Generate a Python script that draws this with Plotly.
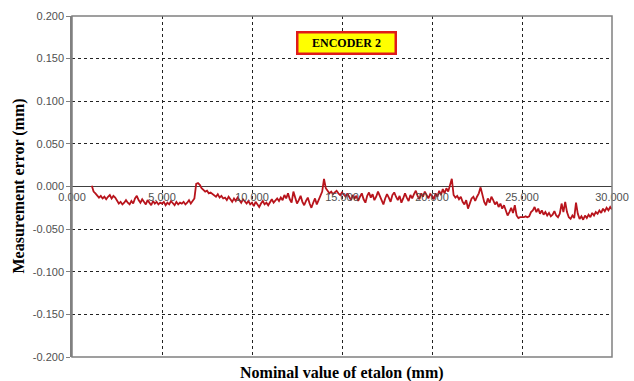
import plotly.graph_objects as go

# Nominal positions (mm) sampled every 0.1 mm from 1.1 to 30.0
x_start = 1.1
x_step = 0.1

errors = [
    0.001, -0.006, -0.008, -0.010, -0.013, -0.011, -0.014, -0.012, -0.015, -0.012,
    -0.010, -0.014, -0.011, -0.013, -0.017, -0.020, -0.018, -0.021, -0.019, -0.016,
    -0.019, -0.021, -0.017, -0.020, -0.014, -0.011, -0.016, -0.019, -0.015, -0.018,
    -0.021, -0.016, -0.019, -0.022, -0.017, -0.020, -0.018, -0.021, -0.019, -0.020,
    -0.018, -0.022, -0.019, -0.021, -0.017, -0.020, -0.022, -0.018, -0.021, -0.019,
    -0.020, -0.018, -0.021, -0.019, -0.016, -0.020, -0.017, -0.014, 0.003, 0.004,
    0.002, -0.002, -0.004, -0.006, -0.005, -0.008, -0.007, -0.009, -0.010, -0.012,
    -0.009, -0.013, -0.011, -0.014, -0.013, -0.016, -0.012, -0.015, -0.018, -0.014,
    -0.017, -0.013, -0.016, -0.019, -0.015, -0.018, -0.020, -0.017, -0.021, -0.019,
    -0.023, -0.018, -0.021, -0.024, -0.020, -0.017, -0.021, -0.019, -0.022, -0.018,
    -0.015, -0.019, -0.016, -0.014, -0.017, -0.013, -0.016, -0.010, -0.014, -0.008,
    -0.015, -0.019, -0.006, -0.013, -0.020, -0.016, -0.011, -0.018, -0.022, -0.017,
    -0.013, -0.020, -0.025, -0.019, -0.014, -0.021, -0.016, -0.011, -0.006, 0.009,
    -0.002, -0.005, -0.008, -0.006, -0.009, -0.007, -0.005, -0.008, -0.010, -0.007,
    -0.009, -0.012, -0.008, -0.013, -0.016, -0.010, -0.014, -0.011, -0.017, -0.012,
    -0.008, -0.015, -0.019, -0.011, -0.007, -0.013, -0.009, -0.016, -0.012, -0.006,
    -0.011, -0.017, -0.021, -0.014, -0.009, -0.013, -0.018, -0.010, -0.007, -0.012,
    -0.016, -0.011, -0.019, -0.014, -0.008, -0.013, -0.017, -0.010, -0.014, -0.009,
    -0.005, -0.011, -0.015, -0.008, -0.012, -0.006, -0.010, -0.014, -0.009, -0.011,
    -0.015, -0.008, -0.012, -0.005, -0.010, -0.003, -0.008, -0.002, -0.006, 0.001,
    0.009, -0.010, -0.013, -0.011, -0.015, -0.012, -0.018, -0.021, -0.016, -0.026,
    -0.020, -0.014, -0.012, -0.017, -0.012, -0.008, -0.001, -0.010, -0.018, -0.022,
    -0.014, -0.019, -0.012, -0.016, -0.021, -0.018, -0.024, -0.020, -0.026, -0.022,
    -0.028, -0.034, -0.030, -0.025, -0.031, -0.022, -0.034, -0.037, -0.036, -0.036,
    -0.036, -0.035, -0.036, -0.035, -0.030, -0.028, -0.024, -0.030, -0.026, -0.032,
    -0.028, -0.033, -0.030, -0.034, -0.031, -0.035, -0.033, -0.029, -0.034, -0.036,
    -0.032, -0.020, -0.030, -0.018, -0.030, -0.036, -0.038, -0.034, -0.037, -0.019,
    -0.032, -0.038, -0.035, -0.039, -0.034, -0.037, -0.033, -0.036, -0.031, -0.034,
    -0.030, -0.032, -0.028, -0.031, -0.026, -0.029, -0.025, -0.028, -0.024, -0.027,
]
positions = [round(x_start + x_step * i, 1) for i in range(len(errors))]

x_tickvals = [0, 5, 10, 15, 20, 25, 30]
x_ticktext = ["0.000", "5.000", "10.000", "15.000", "20.000", "25.000", "30.000"]
y_tickvals = [-0.2, -0.15, -0.1, -0.05, 0.0, 0.05, 0.1, 0.15, 0.2]
y_ticktext = ["-0.200", "-0.150", "-0.100", "-0.050", "0.000", "0.050", "0.100", "0.150", "0.200"]

title_text = "ENCODER 2"
x_title = "Nominal value of etalon (mm)"
y_title = "Measurement error (mm)"

serif = "Liberation Serif, Times New Roman, serif"
sans = "Liberation Sans, Arial, sans-serif"

fig = go.Figure()
fig.add_trace(go.Scatter(
    x=positions, y=errors, mode="lines",
    line=dict(color="#b8141c", width=1.8),
    showlegend=False, hoverinfo="skip",
))

fig.update_layout(
    width=634, height=381,
    margin=dict(l=72, r=22, t=16, b=24, autoexpand=False),
    paper_bgcolor="white", plot_bgcolor="white",
    xaxis=dict(
        range=[0, 30], tickvals=x_tickvals, ticktext=x_ticktext,
        anchor="free", position=0.5, automargin=False,
        showline=False, ticks="", zeroline=False,
        showgrid=True, gridcolor="#222222", griddash="dot", gridwidth=1,
        tickfont=dict(family=sans, size=11, color="#505050"),
        ticklabelstandoff=2,
    ),
    yaxis=dict(
        range=[-0.2, 0.2], tickvals=y_tickvals, ticktext=y_ticktext,
        automargin=False,
        showline=True, linecolor="#808080", linewidth=1.5,
        ticks="outside", ticklen=4, tickcolor="#808080",
        zeroline=True, zerolinecolor="#404040", zerolinewidth=1.2,
        showgrid=True, gridcolor="#222222", griddash="dot", gridwidth=1,
        tickfont=dict(family=sans, size=11, color="#505050"),
    ),
    shapes=[dict(
        type="rect", xref="paper", yref="paper", x0=0, x1=1, y0=0, y1=1,
        line=dict(color="#808080", width=1.5), layer="above",
    )],
    annotations=[
        dict(text="<b>" + title_text + "</b>", xref="paper", yref="paper",
             x=0.509, y=0.922, xanchor="center", yanchor="middle",
             showarrow=False,
             font=dict(family=serif, size=12, color="black"),
             bgcolor="#ffff00", bordercolor="#e01b1b", borderwidth=2.5,
             borderpad=1, width=94, height=17),
        dict(text="<b>" + x_title + "</b>", xref="paper", yref="paper",
             x=0.5, y=0.0, yshift=-16, showarrow=False,
             xanchor="center", yanchor="middle",
             font=dict(family=serif, size=16, color="black")),
        dict(text="<b>" + y_title + "</b>", xref="paper", yref="paper",
             x=0, xshift=-54, y=0.5, showarrow=False, textangle=-90,
             xanchor="center", yanchor="middle",
             font=dict(family=serif, size=16, color="black")),
    ],
)

fig.write_html(
    "out.html",
    config={"responsive": False, "displayModeBar": False},
    post_script="document.body.style.margin='0';",
)
